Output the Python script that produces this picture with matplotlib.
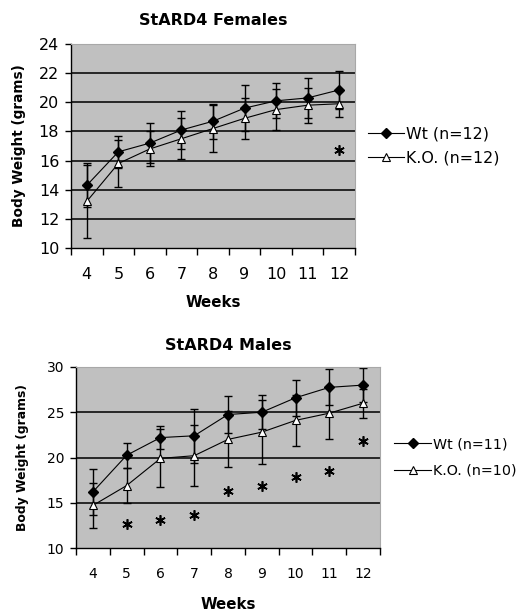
import numpy as np
import matplotlib
matplotlib.use("Agg")
import matplotlib.pyplot as plt
from matplotlib.lines import Line2D

plt.rcParams['font.family'] = ['DejaVu Sans']

weeks = ['4', '5', '6', '7', '8', '9', '10', '11', '12']

# females
f_wt = [14.3, 16.6, 17.2, 18.1, 18.7, 19.6, 20.1, 20.3, 20.85]
f_wt_err = [1.5, 1.1, 1.4, 1.3, 1.2, 1.6, 1.2, 1.4, 1.3]
f_ko = [13.2, 15.8, 16.8, 17.5, 18.2, 18.9, 19.5, 19.8, 19.9]
f_ko_err = [2.5, 1.6, 1.2, 1.4, 1.6, 1.4, 1.4, 1.2, 0.9]
f_star_weeks = ['12']
f_star_y = [16.7]

# males
m_wt = [16.2, 20.25, 22.2, 22.4, 24.75, 25.0, 26.6, 27.75, 28.0]
m_wt_err = [2.5, 1.4, 1.3, 3.0, 2.0, 1.9, 2.0, 2.0, 1.9]
m_ko = [14.7, 16.9, 19.9, 20.2, 22.0, 22.8, 24.1, 24.9, 26.0]
m_ko_err = [2.5, 1.9, 3.2, 3.4, 3.1, 3.5, 2.8, 2.9, 1.6]
m_star_weeks = ['5', '6', '7', '8', '9', '10', '11', '12']
m_star_y = [12.6, 13.1, 13.7, 16.25, 16.9, 17.8, 18.5, 21.8]

BG = '#c0c0c0'


def draw_panel(ax, wt, wt_err, ko, ko_err, star_weeks, star_y, ylim, ystep,
               title, labels, fs_tick, fs_lab, fs_title, title_pad, xlab_pad,
               ylab_x, legend_pos, fs_leg, leg_space, leg_hlen):
    x = np.arange(len(weeks))
    ax.set_facecolor(BG)
    for yv in np.arange(ylim[0] + ystep, ylim[1] + 0.01, ystep):
        ax.axhline(yv, color='#1a1a1a', lw=1.3, zorder=1)

    ax.errorbar(x, wt, yerr=wt_err, fmt='none', ecolor='black', elinewidth=1,
                capsize=3, capthick=1, zorder=2)
    ax.errorbar(x, ko, yerr=ko_err, fmt='none', ecolor='black', elinewidth=1,
                capsize=3, capthick=1, zorder=2)
    ax.plot(x, wt, color='black', lw=0.8, marker='D', ms=5,
            mfc='black', mec='black', zorder=3)
    ax.plot(x, ko, color='black', lw=0.8, marker='^', ms=6,
            mfc='white', mec='black', mew=0.8, zorder=3)
    # significance asterisks
    sx = [weeks.index(w) for w in star_weeks]
    ax.plot(sx, star_y, ls='none', marker=(6, 2, 0), ms=7.5, mew=1.2,
            color='black', zorder=3)

    ax.set_xlim(-0.5, len(weeks) - 0.5)
    ax.set_ylim(*ylim)
    ax.set_yticks(np.arange(ylim[0], ylim[1] + 0.01, ystep))
    ax.set_xticks(np.arange(-0.5, len(weeks), 1.0))
    ax.set_xticklabels([])
    ax.set_xticks(x, minor=True)
    ax.set_xticklabels(weeks, minor=True)
    ax.tick_params(axis='x', which='major', direction='out', length=5, width=1)
    ax.tick_params(axis='x', which='minor', length=0, labelsize=fs_tick, pad=14)
    ax.tick_params(axis='y', direction='out', length=4.5, width=1,
                   labelsize=fs_tick, pad=4)
    for s in ['top', 'right']:
        ax.spines[s].set_color('#a8a8a8')
        ax.spines[s].set_linewidth(0.8)
    for s in ['left', 'bottom']:
        ax.spines[s].set_color('black')
        ax.spines[s].set_linewidth(1)

    ax.set_title(title, fontsize=fs_title, fontweight='bold', pad=title_pad)
    ax.set_xlabel('Weeks', fontsize=10.8, fontweight='bold', labelpad=xlab_pad)
    ax.set_ylabel('Body Weight (grams)', fontsize=fs_lab, fontweight='bold')
    ax.yaxis.set_label_coords(ylab_x, 0.5)

    handles = [Line2D([], [], color='black', lw=0.8, marker='D', ms=5),
               Line2D([], [], color='black', lw=0.8, marker='^', ms=6,
                      mfc='white', mec='black', mew=0.8)]
    ax.legend(handles, labels, loc='center left', bbox_to_anchor=legend_pos,
              bbox_transform=ax.figure.transFigure, frameon=False,
              fontsize=fs_leg, handlelength=leg_hlen, handletextpad=0.1,
              labelspacing=leg_space, borderaxespad=0, borderpad=0)


fig = plt.figure(figsize=(5.2, 6.13), dpi=100)
ax1 = fig.add_axes([71 / 520, 1 - 248 / 613, 284 / 520, 204 / 613])
ax2 = fig.add_axes([76 / 520, 1 - 548 / 613, 304 / 520, 181 / 613])

draw_panel(ax1, f_wt, f_wt_err, f_ko, f_ko_err, f_star_weeks, f_star_y,
           (10, 24), 2, 'StARD4 Females', ['Wt (n=12)', 'K.O. (n=12)'],
           11.5, 9.8, 11.5, 14, 9, -0.158, (368 / 520, 1 - 146 / 613), 11.4, 0.6, 2.3)
draw_panel(ax2, m_wt, m_wt_err, m_ko, m_ko_err, m_star_weeks, m_star_y,
           (10, 30), 5, 'StARD4 Males', ['Wt (n=11)', 'K.O. (n=10)'],
           10, 8.9, 11.5, 12, 11, -0.155, (394 / 520, 1 - 457.5 / 613), 10.3, 0.85, 2.6)

fig.savefig('out.png', dpi=100)
